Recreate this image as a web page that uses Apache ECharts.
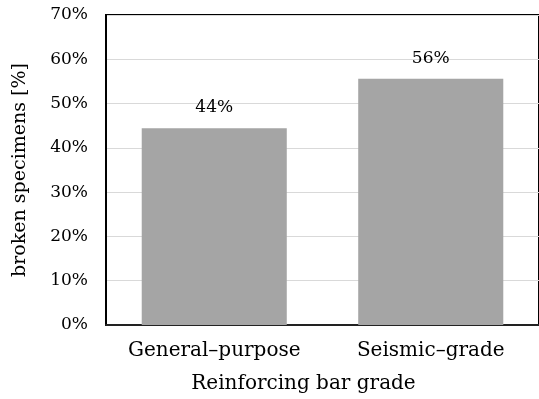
<!DOCTYPE html>
<html>
<head>
<meta charset="utf-8">
<script src="https://cdn.jsdelivr.net/npm/echarts@6/dist/echarts.min.js"></script>
<style>
  html, body { margin: 0; padding: 0; background: #ffffff; }
  #chart { width: 539px; height: 399px; }
</style>
</head>
<body>
<div id="chart"></div>
<script>
// Share of broken specimens by reinforcing bar grade
const categories = ['General–purpose', 'Seismic–grade'];
const brokenShare = [44.4, 55.6];
const yTicks = { min: 0, max: 70, step: 10 };

const serif = '"DejaVu Serif", serif';

const chart = echarts.init(document.getElementById('chart'), null, { renderer: 'canvas' });
chart.setOption({
  backgroundColor: '#ffffff',
  animation: false,
  grid: {
    show: true,
    left: 106, top: 15, right: -3, bottom: 74,
    borderColor: '#000000', borderWidth: 2,
    backgroundColor: 'transparent'
  },
  xAxis: {
    type: 'category',
    data: categories,
    axisLine: { show: true, lineStyle: { color: '#222222', width: 2 } },
    axisTick: { show: false },
    axisLabel: {
      interval: 0, hideOverlap: false,
      margin: 16, fontFamily: serif, fontSize: 20, color: '#000000'
    },
    name: 'Reinforcing bar grade',
    nameLocation: 'middle',
    nameGap: 49,
    nameTextStyle: { fontFamily: serif, fontSize: 20, color: '#000000', padding: [0, 38, 0, 0] }
  },
  yAxis: {
    type: 'value',
    min: yTicks.min, max: yTicks.max, interval: yTicks.step,
    axisLine: { show: true, lineStyle: { color: '#000000', width: 2 } },
    axisTick: { show: false },
    axisLabel: { margin: 18, fontFamily: serif, fontSize: 17, color: '#000000', formatter: '{value}%' },
    splitLine: { show: true, lineStyle: { color: '#d9d9d9', width: 1 } },
    name: 'broken specimens [%]',
    nameLocation: 'middle',
    nameGap: 76,
    nameTextStyle: { fontFamily: serif, fontSize: 19, color: '#000000' }
  },
  series: [{
    type: 'bar',
    data: brokenShare,
    barWidth: '67%',
    itemStyle: { color: '#a5a5a5' },
    label: {
      show: true,
      position: 'top',
      distance: 12,
      fontFamily: serif,
      fontSize: 17,
      color: '#000000',
      formatter: p => Math.round(p.value) + '%'
    }
  }]
});
</script>
</body>
</html>
